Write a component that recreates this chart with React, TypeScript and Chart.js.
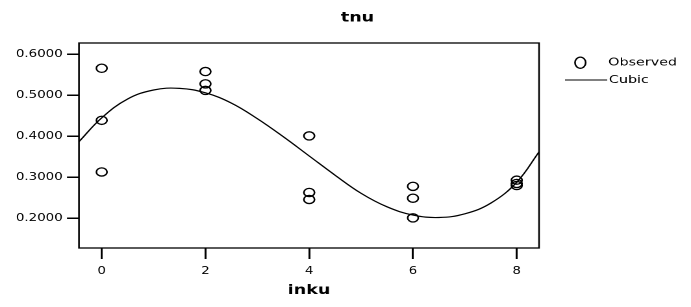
import React, { useEffect, useRef } from "react";
import { Chart, registerables } from "chart.js";

Chart.register(...registerables);

const chartTitle = "tnu";
const xAxisTitle = "inku";
const observedLabel = "Observed";
const cubicLabel = "Cubic";

const obsX = [0, 0, 0, 2, 2, 2, 4, 4, 4, 6, 6, 6, 8, 8, 8];
const obsY = [0.566, 0.439, 0.313, 0.558, 0.528, 0.512, 0.401, 0.263, 0.246, 0.278, 0.249, 0.201, 0.293, 0.285, 0.28];

const curveX = [-0.438, 0, 0.5, 1, 1.5, 2, 2.5, 3, 3.5, 4, 4.5, 5, 5.5, 6, 6.5, 7, 7.5, 8, 8.43];
const curveY = [0.387, 0.445, 0.491, 0.513, 0.517, 0.506, 0.481, 0.443, 0.399, 0.352, 0.305, 0.261, 0.228, 0.208, 0.202, 0.211, 0.237, 0.288, 0.362];

const xTicks = [0, 2, 4, 6, 8];
const yTicks = [0.2, 0.3, 0.4, 0.5, 0.6];

const FONT = "'DejaVu Sans', sans-serif";
const STRETCH = 691 / 532;

const framePlugin = {
  id: "frameAndLegend",
  afterDatasetsDraw(chart: any) {
    const { ctx, chartArea: a } = chart;
    ctx.save();
    ctx.strokeStyle = "#000";
    ctx.lineWidth = 1.3;
    ctx.strokeRect(a.left, a.top, a.right - a.left, a.bottom - a.top);
    ctx.restore();
  },
  afterDraw(chart: any) {
    const { ctx, chartArea: a } = chart;
    ctx.save();
    ctx.strokeStyle = "#000";
    ctx.fillStyle = "#000";
    // Title
    ctx.font = `bold 13.5px ${FONT}`;
    ctx.textAlign = "center";
    ctx.textBaseline = "middle";
    ctx.fillText(chartTitle, 275.2, 18);
    // Observed marker
    ctx.lineWidth = 1.3;
    ctx.beginPath();
    ctx.ellipse(a.right + 31.8, 62.7, 4.1, 5.6, 0, 0, Math.PI * 2);
    ctx.stroke();
    // Cubic line
    ctx.lineWidth = 1.1;
    ctx.beginPath();
    ctx.moveTo(a.right + 20, 80);
    ctx.lineTo(a.right + 52.5, 80);
    ctx.stroke();
    ctx.font = `11px ${FONT}`;
    ctx.textBaseline = "middle";
    ctx.textAlign = "left";
    ctx.fillText(observedLabel, a.right + 53.3, 62.7);
    ctx.fillText(cubicLabel, a.right + 53.8, 80);
    ctx.restore();
  },
};

export default function App() {
  const canvasRef = useRef<HTMLCanvasElement | null>(null);

  useEffect(() => {
    document.body.style.margin = "0";
    const canvas = canvasRef.current;
    if (!canvas) return;
    const chart = new Chart(canvas, {
      type: "scatter",
      data: {
        datasets: [
          {
            type: "scatter",
            label: observedLabel,
            data: obsX.map((x, i) => ({ x, y: obsY[i] })),
            pointStyle: "circle",
            pointRadius: 4.1,
            pointBorderWidth: 1.3,
            pointBackgroundColor: "rgba(0,0,0,0)",
            pointBorderColor: "#000",
            showLine: false,
          },
          {
            type: "line",
            label: cubicLabel,
            data: curveX.map((x, i) => ({ x, y: curveY[i] })),
            borderColor: "#000",
            borderWidth: 1.2,
            pointRadius: 0,
            fill: false,
            tension: 0.4,
          } as any,
        ],
      },
      options: {
        animation: false,
        responsive: true,
        maintainAspectRatio: false,
        devicePixelRatio: 2,
        layout: { padding: { left: 0, right: 0, top: 43, bottom: 0 } },
        plugins: {
          legend: { display: false },
          tooltip: { enabled: false },
          title: { display: false },
        },
        scales: {
          x: {
            type: "linear",
            position: "bottom",
            min: -0.438,
            max: 8.43,
            afterBuildTicks: (ax: any) => {
              ax.ticks = xTicks.map((v) => ({ value: v }));
            },
            afterFit: (ax: any) => {
              ax.height = 59;
            },
            grid: {
              drawOnChartArea: false,
              drawTicks: true,
              tickLength: 11,
              color: "#000",
              lineWidth: 1.5,
            },
            border: { display: false },
            ticks: {
              color: "#000",
              font: { family: FONT, size: 10.3 },
              padding: 6,
              maxRotation: 0,
              autoSkip: false,
              callback: (v: any) => String(v),
            },
            title: {
              display: true,
              text: xAxisTitle,
              color: "#000",
              font: { family: FONT, size: 13.5, weight: "bold" },
              padding: { top: 0, bottom: 8.2 },
            },
          },
          y: {
            type: "linear",
            position: "left",
            min: 0.1276,
            max: 0.6276,
            afterBuildTicks: (ax: any) => {
              ax.ticks = yTicks.map((v) => ({ value: v }));
            },
            afterFit: (ax: any) => {
              ax.width = 60.8;
            },
            grid: {
              drawOnChartArea: false,
              drawTicks: true,
              tickLength: 9.24,
              color: "#000",
              lineWidth: 1.5,
            },
            border: { display: false },
            ticks: {
              color: "#000",
              font: { family: FONT, size: 10.3 },
              padding: 3.3,
              autoSkip: false,
              callback: (v: any) => Number(v).toFixed(4),
            },
          },
          y2: {
            type: "linear",
            position: "right",
            display: true,
            min: 0,
            max: 1,
            afterFit: (ax: any) => {
              ax.width = 117;
            },
            grid: { display: false },
            ticks: { display: false },
            border: { display: false },
          },
        },
      } as any,
      plugins: [framePlugin],
    });
    return () => chart.destroy();
  }, []);

  return (
    <div
      style={{
        width: 532,
        height: 307,
        transform: `scaleX(${STRETCH})`,
        transformOrigin: "0 0",
        position: "relative",
      }}
    >
      <canvas ref={canvasRef} />
    </div>
  );
}
